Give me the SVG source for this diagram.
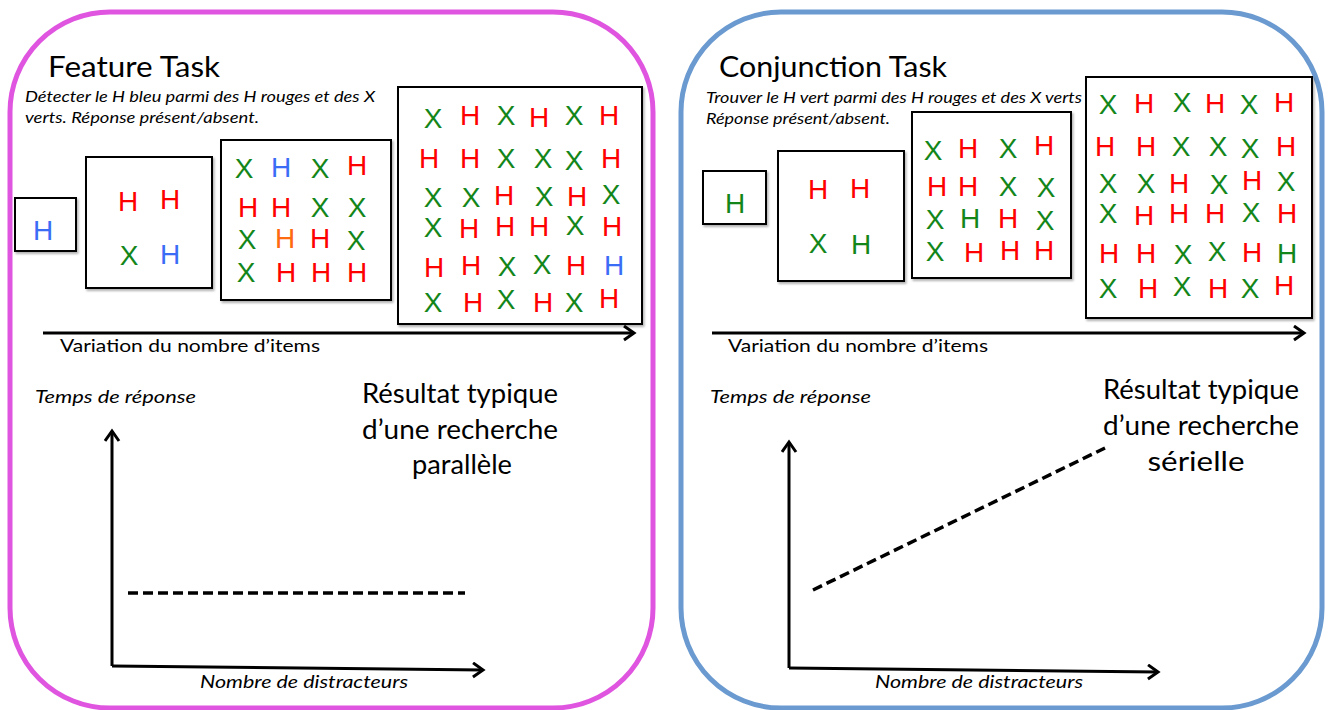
<svg xmlns="http://www.w3.org/2000/svg" width="1330" height="710" viewBox="0 0 1330 710">
<style>
.panelL{fill:#fff;stroke:#e055e0;stroke-width:5}
.panelR{fill:#fff;stroke:#6a9ad0;stroke-width:5}
.box{fill:#fff;stroke:#000;stroke-width:2;filter:url(#sh)}
.title{font-family:Lato,"Liberation Sans",sans-serif;font-size:28px;fill:#000}
.sub{font-family:Lato,"Liberation Sans",sans-serif;font-style:italic;font-size:16px;fill:#000}
.lab{font-family:Lato,"Liberation Sans",sans-serif;font-size:18px;fill:#000}
.ital{font-family:Lato,"Liberation Sans",sans-serif;font-style:italic;font-size:18px;fill:#000}
.res{font-family:Lato,"Liberation Sans",sans-serif;font-size:26px;fill:#000;text-anchor:middle}
.L{font-family:"Liberation Sans",Arial,sans-serif;font-size:28px;text-anchor:middle}
.r{fill:#ff0000}.g{fill:#13861a}.b{fill:#3a6cf6}.o{fill:#ff6a10}
.ax{fill:none;stroke:#000;stroke-width:3}
.dash{fill:none;stroke:#000;stroke-width:3.5;stroke-dasharray:10 5}
</style>
<defs>
<filter id="sh" x="-10%" y="-10%" width="130%" height="130%">
<feDropShadow dx="1.5" dy="2" stdDeviation="1.2" flood-color="#000" flood-opacity="0.3"/>
</filter>
<marker id="arr" markerUnits="userSpaceOnUse" markerWidth="20" markerHeight="20" refX="12" refY="8" orient="auto">
<path d="M2,1 L12,8 L2,15" fill="none" stroke="#000" stroke-width="3"/>
</marker>
</defs>

<g id="panel-feature">
<rect class="panelL" x="10" y="12" width="643" height="696" rx="100" ry="100"/>
<text class="title" x="48" y="77" textLength="172" lengthAdjust="spacingAndGlyphs">Feature Task</text>
<text class="sub" x="25" y="102" textLength="350" lengthAdjust="spacingAndGlyphs">Détecter  le H bleu parmi des H rouges et des X</text>
<text class="sub" x="25" y="123" textLength="234" lengthAdjust="spacingAndGlyphs">verts.  Réponse présent/absent.</text>
</g>

<g id="fbox1">
<rect class="box" x="15" y="198" width="61" height="53"/>
<text class="L b" x="43" y="240">H</text>
</g>
<g id="fbox2">
<rect class="box" x="86" y="157" width="126" height="131"/>
<text class="L r" x="128" y="211">H</text><text class="L r" x="170" y="209">H</text>
<text class="L g" x="129" y="265">X</text><text class="L b" x="170" y="264">H</text>
</g>
<g id="fbox3">
<rect class="box" x="221" y="140" width="170" height="160"/>
<text class="L g" x="244" y="178">X</text><text class="L b" x="281" y="177">H</text><text class="L g" x="320" y="178">X</text><text class="L r" x="357" y="175">H</text>
<text class="L g" x="248" y="217" fill="#f00" style="fill:#f00">H</text><text class="L r" x="281" y="217">H</text><text class="L g" x="320" y="217">X</text><text class="L g" x="357" y="217">X</text>
<text class="L g" x="247" y="249">X</text><text class="L o" x="285" y="248">H</text><text class="L r" x="320" y="248">H</text><text class="L g" x="356" y="250">X</text>
<text class="L g" x="246" y="282">X</text><text class="L r" x="286" y="282">H</text><text class="L r" x="321" y="282">H</text><text class="L r" x="357" y="282">H</text>
</g>
<g id="fbox4">
<rect class="box" x="398" y="87" width="244" height="237"/>
<text class="L g" x="433" y="128">X</text><text class="L r" x="470" y="125">H</text><text class="L g" x="506" y="125">X</text><text class="L r" x="539" y="127">H</text><text class="L g" x="574" y="125">X</text><text class="L r" x="609" y="125">H</text>
<text class="L r" x="429" y="168">H</text><text class="L r" x="470" y="168">H</text><text class="L g" x="506" y="168">X</text><text class="L g" x="543" y="168">X</text><text class="L g" x="574" y="170">X</text><text class="L r" x="611" y="168">H</text>
<text class="L g" x="433" y="207">X</text><text class="L g" x="471" y="207">X</text><text class="L r" x="504" y="205">H</text><text class="L g" x="544" y="206">X</text><text class="L r" x="577" y="206">H</text><text class="L g" x="611" y="204">X</text>
<text class="L g" x="433" y="237">X</text><text class="L r" x="469" y="238">H</text><text class="L r" x="505" y="236">H</text><text class="L r" x="539" y="236">H</text><text class="L g" x="575" y="235">X</text><text class="L r" x="612" y="236">H</text>
<text class="L r" x="434" y="277">H</text><text class="L r" x="471" y="275">H</text><text class="L g" x="507" y="276">X</text><text class="L g" x="542" y="274">X</text><text class="L r" x="576" y="275">H</text><text class="L b" x="614" y="275">H</text>
<text class="L g" x="433" y="312">X</text><text class="L r" x="473" y="312">H</text><text class="L g" x="506" y="309">X</text><text class="L r" x="543" y="312">H</text><text class="L g" x="574" y="312">X</text><text class="L r" x="609" y="308">H</text>
</g>

<g id="panel-conjunction">
<rect class="panelR" x="681" y="12" width="641" height="696" rx="100" ry="100"/>
<text class="title" x="719" y="77" textLength="228" lengthAdjust="spacingAndGlyphs">Conjunction Task</text>
<text class="sub" x="706" y="103" textLength="376" lengthAdjust="spacingAndGlyphs">Trouver le H vert parmi des H rouges et des X verts</text>
<text class="sub" x="706" y="124" textLength="184" lengthAdjust="spacingAndGlyphs">Réponse présent/absent.</text>
</g>

<g id="cbox1">
<rect class="box" x="703" y="171" width="63" height="53"/>
<text class="L g" x="735" y="213">H</text>
</g>
<g id="cbox2">
<rect class="box" x="778" y="151" width="126" height="130"/>
<text class="L r" x="818" y="199">H</text><text class="L r" x="860" y="198">H</text>
<text class="L g" x="818" y="253">X</text><text class="L g" x="861" y="254">H</text>
</g>
<g id="cbox3">
<rect class="box" x="912" y="112" width="159" height="166"/>
<text class="L g" x="933" y="160">X</text><text class="L r" x="968" y="158">H</text><text class="L g" x="1008" y="158">X</text><text class="L r" x="1044" y="155">H</text>
<text class="L r" x="937" y="196">H</text><text class="L r" x="968" y="196">H</text><text class="L g" x="1008" y="196">X</text><text class="L g" x="1046" y="197">X</text>
<text class="L g" x="935" y="229">X</text><text class="L g" x="970" y="228">H</text><text class="L r" x="1008" y="228">H</text><text class="L g" x="1045" y="230">X</text>
<text class="L g" x="935" y="261">X</text><text class="L r" x="974" y="262">H</text><text class="L r" x="1010" y="260">H</text><text class="L r" x="1044" y="260">H</text>
</g>
<g id="cbox4">
<rect class="box" x="1086" y="77" width="226" height="241"/>
<text class="L g" x="1108" y="114">X</text><text class="L r" x="1144" y="113">H</text><text class="L g" x="1182" y="112">X</text><text class="L r" x="1215" y="113">H</text><text class="L g" x="1249" y="114">X</text><text class="L r" x="1284" y="112">H</text>
<text class="L r" x="1105" y="156">H</text><text class="L r" x="1146" y="156">H</text><text class="L g" x="1181" y="156">X</text><text class="L g" x="1218" y="156">X</text><text class="L g" x="1250" y="158">X</text><text class="L r" x="1286" y="156">H</text>
<text class="L g" x="1108" y="193">X</text><text class="L g" x="1146" y="193">X</text><text class="L r" x="1179" y="193">H</text><text class="L g" x="1219" y="194">X</text><text class="L r" x="1252" y="190">H</text><text class="L g" x="1286" y="191">X</text>
<text class="L g" x="1108" y="223">X</text><text class="L r" x="1144" y="225">H</text><text class="L r" x="1179" y="223">H</text><text class="L r" x="1215" y="223">H</text><text class="L g" x="1251" y="222">X</text><text class="L r" x="1287" y="223">H</text>
<text class="L r" x="1109" y="263">H</text><text class="L r" x="1146" y="263">H</text><text class="L g" x="1183" y="264">X</text><text class="L g" x="1217" y="261">X</text><text class="L r" x="1252" y="262">H</text><text class="L g" x="1287" y="263">H</text>
<text class="L g" x="1108" y="298">X</text><text class="L r" x="1148" y="298">H</text><text class="L g" x="1182" y="296">X</text><text class="L r" x="1218" y="298">H</text><text class="L g" x="1250" y="298">X</text><text class="L r" x="1284" y="295">H</text>
</g>

<g id="labels">
<text class="lab" x="60" y="352" textLength="260" lengthAdjust="spacingAndGlyphs">Variation du nombre d’items</text>
<text class="lab" x="728" y="352" textLength="260" lengthAdjust="spacingAndGlyphs">Variation du nombre d’items</text>
<text class="ital" x="35" y="403" textLength="161" lengthAdjust="spacingAndGlyphs">Temps de réponse</text>
<text class="ital" x="710" y="403" textLength="161" lengthAdjust="spacingAndGlyphs">Temps de réponse</text>
<text class="ital" x="200" y="688" textLength="208" lengthAdjust="spacingAndGlyphs">Nombre de distracteurs</text>
<text class="ital" x="875" y="688" textLength="208" lengthAdjust="spacingAndGlyphs">Nombre de distracteurs</text>
<text class="res" x="460" y="403" textLength="196" lengthAdjust="spacingAndGlyphs">Résultat typique</text>
<text class="res" x="460" y="439" textLength="196" lengthAdjust="spacingAndGlyphs">d’une recherche</text>
<text class="res" x="462" y="474" textLength="100" lengthAdjust="spacingAndGlyphs">parallèle</text>
<text class="res" x="1201" y="399" textLength="196" lengthAdjust="spacingAndGlyphs">Résultat typique</text>
<text class="res" x="1201" y="435" textLength="196" lengthAdjust="spacingAndGlyphs">d’une recherche</text>
<text class="res" x="1196" y="471" textLength="97" lengthAdjust="spacingAndGlyphs">sérielle</text>
</g>

<g id="connectors">
<line class="ax" x1="43" y1="333" x2="634" y2="333" marker-end="url(#arr)"/>
<line class="ax" x1="712" y1="333" x2="1304" y2="333" marker-end="url(#arr)"/>
<polyline class="ax" points="112,666 112,431" marker-end="url(#arr)"/>
<polyline class="ax" points="112,666 483,670" marker-end="url(#arr)"/>
<line class="dash" x1="128" y1="593" x2="465" y2="593"/>
<polyline class="ax" points="789,668 789,442" marker-end="url(#arr)"/>
<polyline class="ax" points="789,668 1158,672" marker-end="url(#arr)"/>
<line class="dash" x1="813" y1="590" x2="1105" y2="448"/>
</g>
</svg>
